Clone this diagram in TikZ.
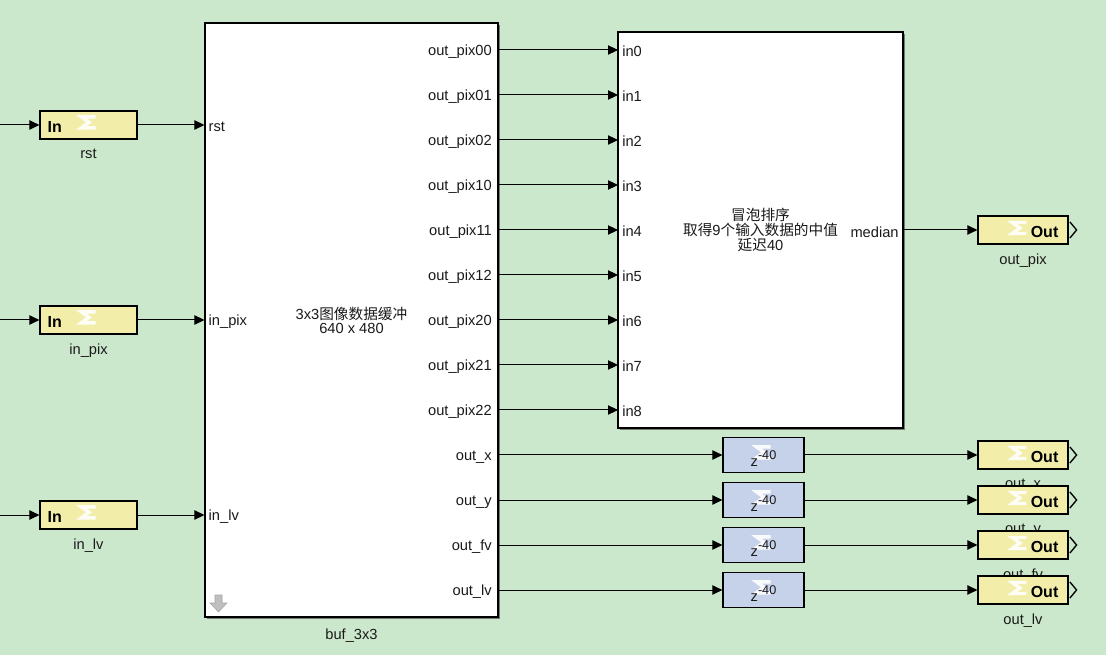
\documentclass[tikz,border=0pt]{standalone}
\usepackage{fontspec}
\setmainfont{Liberation Sans}
\newfontfamily\cjk{Noto Sans CJK SC}
\usepackage{tikz}
\usetikzlibrary{arrows.meta, positioning, shadows}
\definecolor{sl_green}{HTML}{CCE8CC}
\definecolor{sl_yellow}{HTML}{F2EEAA}
\definecolor{sl_blue}{HTML}{C6D1EA}
\definecolor{sl_text}{HTML}{1A1A1A}

\begin{document}
\begin{tikzpicture}[
    x=0.75pt, y=-0.75pt,
    line join=miter,
    wire/.style={line width=0.75pt, draw=black, -{Triangle[length=7.5pt,width=7pt]}},
    bigblk/.style={draw=black, line width=0.8pt, fill=white, inner sep=0pt,
        drop shadow={shadow xshift=1.6pt, shadow yshift=-1.6pt, fill=black!70, opacity=0.7}},
    inblk/.style={draw=black, line width=0.9pt, fill=sl_yellow, inner sep=0pt,
        minimum width=72.75pt, minimum height=21pt},
    outblk/.style={draw=black, line width=0.9pt, fill=sl_yellow, inner sep=0pt,
        minimum width=67.5pt, minimum height=21pt},
    dlyblk/.style={draw=black, line width=0.9pt, fill=sl_blue, inner sep=0pt,
        minimum width=60.75pt, minimum height=26.25pt},
    portlbl/.style={text=sl_text, font=\fontsize{11}{12}\selectfont, inner sep=0pt},
    blklbl/.style={text=sl_text, font=\fontsize{11}{12}\selectfont, inner sep=0pt},
    iotxt/.style={font=\bfseries\fontsize{12}{12}\selectfont, inner sep=0pt},
    xlogo/.pic={
      \draw[white, opacity=0.9, line width=2.6pt, line join=miter]
        (7,-5.5) -- (-7,-5.5) -- (0.5,0) -- (-7,5.5) -- (7,5.5);
    }
]

% Background
\fill[sl_green] (0,0) rectangle (1106,655);
\useasboundingbox (0,0) rectangle (1106,655);

% 3x3 buffer block
\node[bigblk, minimum width=219.75pt, minimum height=445.5pt] (buf) at (351.5,320) {};
\node[blklbl, below=8pt of buf] {buf\_3x3};
\node[portlbl, align=center, font=\fontsize{11}{10.5}\selectfont] at (buf.center)
    {3x3{\cjk 图像数据缓冲}\\640 x 480};

% Grey arrow icon in the corner
\fill[black!25, draw=black!35, line width=0.4pt]
    (215,595) -- (222,595) -- (222,603) -- (227,603) -- (218.5,612)
    -- (210,603) -- (215,603) -- cycle;

% Median block
\node[bigblk, minimum width=213.75pt, minimum height=297pt] (med) at (760.5,230) {};
\node[portlbl, align=center, font=\fontsize{11}{11.25}\selectfont] at (med.center)
    {{\cjk 冒泡排序}\\{\cjk 取得}9{\cjk 个输入数据的中值}\\{\cjk 延迟}40};
\node[portlbl, anchor=east] at ([xshift=-3.5pt, yshift=-1.5pt]med.east) {median};

% Input ports
\foreach \nm/\lbl/\y in {rst/rst/125, inpix/in\_pix/320, inlv/in\_lv/515} {
  \coordinate (src-\nm) at (0,\y);
  \node[inblk] (\nm) at (88.5,\y) {};
  \pic at ([yshift=2pt]\nm.center) {xlogo};
  \node[iotxt, anchor=west] at ([xshift=6pt, yshift=-1.5pt]\nm.west) {In};
  \node[blklbl, below=7pt of \nm] {\lbl};
  \draw[wire] (src-\nm) -- (\nm.west);
  \draw[wire] (\nm.east) -- (buf.west |- \nm.east);
  \node[portlbl, anchor=west] at ([xshift=3pt, yshift=-1.5pt]buf.west |- \nm.east) {\lbl};
}

% Buffer outputs
\foreach \lbl [count=\i from 0] in {out\_pix00, out\_pix01, out\_pix02, out\_pix10,
    out\_pix11, out\_pix12, out\_pix20, out\_pix21, out\_pix22,
    out\_x, out\_y, out\_fv, out\_lv} {
  \coordinate (bo\i) at (498,{50+45*\i});
  \node[portlbl, anchor=east] at ([xshift=-4.5pt, yshift=-1.5pt]bo\i) {\lbl};
}

% Median inputs
\foreach \i in {0,...,8} {
  \coordinate (mi\i) at (618,{50+45*\i});
  \node[portlbl, anchor=west] at ([xshift=3pt, yshift=-1pt]mi\i) {in\i};
  \draw[wire] (bo\i) -- (mi\i);
}

% Median output
\node[outblk] (opix) at (1023,230) {};
\pic at ([xshift=-37pt, yshift=1.5pt]opix.east) {xlogo};
\node[iotxt, anchor=east] at ([xshift=-7.5pt, yshift=-1.5pt]opix.east) {Out};
\draw[line width=1pt] ([xshift=1pt, yshift=6pt]opix.east) -- ([xshift=6pt]opix.east)
    -- ([xshift=1pt, yshift=-6pt]opix.east);
\node[blklbl, below=7pt of opix] {out\_pix};
\draw[wire] (med.east |- opix) -- (opix.west);

% Delay lines and outputs
\foreach \lbl [count=\j from 9] in {out\_x, out\_y, out\_fv, out\_lv} {
  \node[dlyblk] (d\j) at (763.5,{50+45*\j}) {};
  \pic at ([yshift=2pt]d\j.center) {xlogo};
  \node[portlbl] at ([yshift=-2.5pt]d\j.center)
      {z{\fontsize{9.5}{9.5}\selectfont\raisebox{5pt}{-40}}};
  \node[outblk] (o\j) at (1023,{50+45*\j}) {};
  \pic at ([xshift=-37pt, yshift=1.5pt]o\j.east) {xlogo};
  \node[iotxt, anchor=east] at ([xshift=-7.5pt, yshift=-1.5pt]o\j.east) {Out};
  \draw[line width=1pt] ([xshift=1pt, yshift=6pt]o\j.east) -- ([xshift=6pt]o\j.east)
      -- ([xshift=1pt, yshift=-6pt]o\j.east);
  \node[blklbl, below=7pt of o\j] {\lbl};
  \draw[wire] (bo\j) -- (d\j.west);
  \draw[wire] (d\j.east) -- (o\j.west);
}

\end{tikzpicture}
\end{document}
